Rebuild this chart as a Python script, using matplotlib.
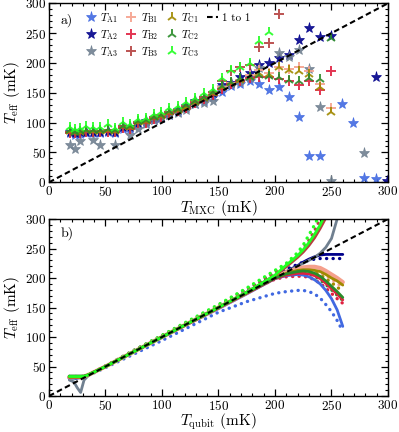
import numpy as np
import matplotlib
matplotlib.use("Agg")
import matplotlib.pyplot as plt
from matplotlib.ticker import MultipleLocator
from matplotlib.lines import Line2D

plt.rcParams['font.family'] = 'serif'
plt.rcParams['font.serif'] = ['cmr10', 'DejaVu Serif']
plt.rcParams['mathtext.fontset'] = 'cm'
plt.rcParams['axes.formatter.use_mathtext'] = True
plt.rcParams['axes.unicode_minus'] = False

nan = np.nan

# ---------------- panel a data ----------------
T_MXC = [19, 23, 27.5, 33, 39, 45.5, 52, 58.5, 65.5, 72, 79, 86, 92.5, 99.5, 106.5, 114,
         121, 129, 137, 145, 153, 161, 169, 177.5, 186, 194.5, 203.5, 212, 221, 230, 240,
         250, 259, 269, 279, 289, 299]

TA1 = [82, 80, 81, 83, 83, 83, 84, 82, 90, 89, 97, 99, 105, 107, 113, 117, 124, 132, 137, 143,
       151, 161, 164, 170, 164, 155, 159, 143, 110, 44, 44, nan, 132, 99, 7, 5, nan]
TA2 = [85, 83, 84, 85, 85, 85, 86, 85, 93, 92, 100, 102, 108, 110, 116, 121, 128, 137, 142, 150,
       163, 167, 177, 183, 196, 200, 209, 213, 239, 259, 244, 245, nan, nan, nan, 177, 3]
TA3 = [63, 55, 69, nan, 71, 63, nan, 62, nan, 80, 90, 98, 104, 107, 112, 116, 122, 131, 133, 137,
       160, 164, 168, 175, 191, nan, 216, 210, 221, 190, 126, 3, nan, nan, 49, nan, nan]
TB1 = [85, 84, 85, 86, 86, 86, 87, 86, 93, 92, 101, 102, 108, 111, 117, 121, 127, 135, 141, 149,
       159, 166, 172, 180, 188, 183, 194, 190, 193, 186, 165, 125, nan, nan, nan, nan, nan]
TB2 = [83, 82, 83, 84, 84, 84, 85, 84, 91, 90, 99, 100, 106, 109, 115, 119, 125, 133, 139, 147,
       157, 164, 170, 175, 176, 176, 173, 170, 163, 170, 155, 187, nan, nan, nan, nan, nan]
TB3 = [85, 84, 85, 86, 86, 86, 88, 86, 94, 92, 101, 103, 109, 112, 118, 122, 128, 136, 143, 151,
       170, 186, 193, 196, 227, 233, 282, nan, nan, nan, nan, nan, nan, nan, nan, nan, nan]
TC1 = [86, 84, 85, 87, 86, 86, 88, 86, 94, 93, 101, 103, 109, 111, 117, 121, 127, 135, 141, 149,
       159, 166, 172, 176, 183, 181, 194, 188, 187, 181, 160, 118, nan, nan, nan, nan, nan]
TC2 = [87, 85, 86, 88, 87, 87, 90, 87, 95, 94, 102, 104, 110, 113, 119, 123, 129, 137, 143, 151,
       161, 168, 174, 177, 179, 178, 176, 172, 170, 175, 173, 241, nan, nan, nan, nan, nan]
TC3 = [92, 90, 91, 94, 93, 92, 98, 91, 101, 98, 106, 107, 114, 118, 124, 128, 134, 142, 149, 156,
       175, 188, 194, 200, 237, 252, nan, nan, nan, nan, nan, nan, nan, nan, nan, nan, nan]

labels_a = [r'$T_{\rm A1}$', r'$T_{\rm A2}$', r'$T_{\rm A3}$',
            r'$T_{\rm B1}$', r'$T_{\rm B2}$', r'$T_{\rm B3}$',
            r'$T_{\rm C1}$', r'$T_{\rm C2}$', r'$T_{\rm C3}$']

# ---------------- panel b data ----------------
T_qubit = [18, 22, 25, 28, 31, 35, 50, 75, 100, 125, 150, 175, 200, 210, 220, 225, 230, 235,
           240, 245, 250, 255, 260]

A1_solid = [30, 30, 30, 31, 32, 35, 50, 75, 99, 124, 148, 173, 199, 204, 206, 205, 202, 197, 190, 179, 165, 146, 118]
A2_solid = [31, 31, 31, 32, 33, 36, 50, 75, 100, 125, 150, 175, 202, 211, 221, 227, 232, 236, 239, 240, 240, 240, 240]
A3_solid = [27, 24, 14, 6, 27, 35, 50, 75, 100, 125, 150, 175, 200, 210, 220, 225, 230, 235, 242, 252, 267, 300, 330]
B1_solid = [32, 32, 32, 32, 33, 36, 50, 75, 100, 125, 150, 175, 202, 210, 216, 218, 219, 219, 217, 212, 206, 200, 193]
B2_solid = [32, 32, 32, 32, 33, 36, 50, 75, 100, 124, 149, 174, 199, 205, 208, 208, 207, 204, 199, 191, 182, 173, 163]
B3_solid = [32, 32, 32, 32, 33, 36, 50, 75, 100, 125, 150, 176, 204, 219, 235, 244, 255, 268, 284, 302, 330, nan, nan]
C1_solid = [32, 32, 32, 32, 33, 36, 50, 75, 100, 125, 150, 175, 201, 208, 213, 214, 214, 213, 211, 206, 200, 195, 188]
C2_solid = [34, 34, 34, 34, 34, 36, 50, 75, 100, 125, 150, 175, 200, 207, 211, 212, 211, 208, 203, 195, 186, 177, 167]
C3_solid = [33, 33, 33, 33, 33, 36, 50, 75, 100, 125, 150, 176, 205, 222, 238, 248, 260, 274, 290, 310, nan, nan, nan]

A1_dot = [30, 30, 30, 31, 32, 35, 48, 71, 94, 118, 142, 160, 174, 177, 179, 179, 177, 173, 166, 155, 143, 128, 110]
A2_dot = [31, 31, 31, 32, 33, 36, 51, 77, 102, 128, 153, 180, 207, 215, 223, 227, 230, 232, 233, 233, 233, 233, 233]
B1_dot = [32, 32, 32, 32, 33, 36, 50, 75, 100, 125, 150, 175, 201, 208, 213, 214, 214, 212, 209, 204, 198, 191, 184]
B2_dot = [32, 32, 32, 32, 33, 36, 50, 76, 101, 126, 151, 176, 198, 202, 203, 203, 201, 197, 191, 183, 174, 165, 157]
B3_dot = [32, 32, 32, 32, 33, 36, 51, 77, 102, 128, 154, 181, 210, 221, 238, 250, 264, 280, 300, 320, nan, nan, nan]
C1_dot = [32, 32, 32, 32, 33, 36, 50, 75, 100, 125, 150, 175, 201, 207, 211, 212, 211, 209, 205, 199, 192, 185, 176]
C2_dot = [33, 33, 33, 33, 33, 36, 50, 75, 100, 125, 150, 175, 200, 205, 208, 208, 207, 203, 197, 189, 180, 171, 162]
C3_dot = [33, 33, 33, 33, 33, 36, 51, 77, 103, 129, 155, 183, 213, 225, 243, 256, 273, 290, 310, nan, nan, nan, nan]

one_to_one = [0, 300]

# ---------------- styles ----------------
colors = ['#4169E1', '#00008B', '#708090', '#F5A08C', '#E0203F', '#B5403F',
          '#A08A00', '#2A8C2A', '#22FF22']
markers = ['*', '*', '*', '+', '+', '+', '2', '2', '2']
msizes = [8, 8, 8, 7, 7, 7, 7.5, 7.5, 7.5]

fig = plt.figure(figsize=(3.99, 4.32), dpi=100)
axa = fig.add_axes([0.1228, 0.578, 0.8496, 0.4144])
axb = fig.add_axes([0.1228, 0.0833, 0.8496, 0.4097])

series_a = [TA1, TA2, TA3, TB1, TB2, TB3, TC1, TC2, TC3]
handles = []
for vals, c, m, ms, lab in zip(series_a, colors, markers, msizes, labels_a):
    h, = axa.plot(T_MXC, vals, linestyle='none', marker=m, ms=ms, color=c,
                  mew=1.4 if m != '*' else 0.5, alpha=0.9, label=lab)
    handles.append(h)
h1, = axa.plot(one_to_one, one_to_one, color='black', lw=1.5, linestyle=(0, (2.7, 1.6)),
               label='1 to 1')
blank = Line2D([], [], linestyle='none', marker='none')
leg_handles = handles + [h1, blank, blank]
leg_labels = labels_a + ['1 to 1', '', '']

dot_ls = (0, (0.05, 1.9))
solids = [A1_solid, A2_solid, A3_solid, B1_solid, B2_solid, B3_solid, C1_solid, C2_solid, C3_solid]
dots = [A1_dot, A2_dot, None, B1_dot, B2_dot, B3_dot, C1_dot, C2_dot, C3_dot]
for d, c in zip(dots, colors):
    if d is not None:
        axb.plot(T_qubit, d, color=c, lw=2.4, linestyle=dot_ls, dash_capstyle='round')
for i, (s, c) in enumerate(zip(solids, colors)):
    axb.plot(T_qubit, s, color=c, lw=3.0 if i == 3 else 2.0, solid_capstyle='round')
axb.plot(one_to_one, one_to_one, color='black', lw=1.5, linestyle=(0, (2.7, 1.6)))

for ax in (axa, axb):
    ax.set_xlim(0, 300)
    ax.set_ylim(0, 300)
    ax.xaxis.set_major_locator(MultipleLocator(50))
    ax.yaxis.set_major_locator(MultipleLocator(50))
    ax.xaxis.set_minor_locator(MultipleLocator(10))
    ax.yaxis.set_minor_locator(MultipleLocator(10))
    ax.tick_params(which='both', direction='in', top=True, right=True, labelsize=9.5, pad=2)
    ax.tick_params(which='major', length=5, width=0.9)
    ax.tick_params(which='minor', length=2.5, width=0.8)
    for sp in ax.spines.values():
        sp.set_linewidth(1.0)
    ax.set_ylabel(r'$T_{\rm eff}$ (mK)', fontsize=11, labelpad=2)

axa.set_xlabel(r'$T_{\rm MXC}$ (mK)', fontsize=11, labelpad=-1)
axb.set_xlabel(r'$T_{\rm qubit}$ (mK)', fontsize=11, labelpad=-1)

axa.text(0.035, 0.905, 'a)', transform=axa.transAxes, fontsize=10, va='center', ha='left')
axb.text(0.035, 0.92, 'b)', transform=axb.transAxes, fontsize=10, va='center', ha='left')

axa.legend(leg_handles, leg_labels, loc='upper left', bbox_to_anchor=(0.08, 1.005), ncol=4,
           frameon=False, fontsize=8, handlelength=1.0, handletextpad=0.35,
           columnspacing=0.7, labelspacing=0.25, numpoints=1, borderpad=0.3)

fig.savefig('out.png', dpi=100)
